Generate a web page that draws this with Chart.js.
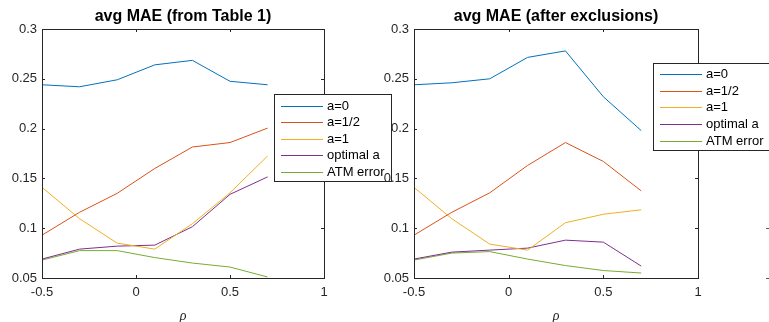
<!DOCTYPE html>
<html lang="en">
<head>
    <meta charset="UTF-8">
    <title>avg MAE</title>
    <script src="https://cdn.jsdelivr.net/npm/chart.js"></script>
    <style>
        body {
            margin: 0;
            padding: 0;
            background-color: #ffffff;
            width: 769px;
            height: 322px;
            overflow: hidden;
        }
        canvas {
            position: absolute;
            left: 0;
            top: 0;
        }
    </style>
</head>
<body>
    <canvas id="chartLeft" width="769" height="322"></canvas>
    <canvas id="chartRight" width="769" height="322"></canvas>

    <script>
        // rho values on the x axis
        const rho = [-0.5, -0.3, -0.1, 0.1, 0.3, 0.5, 0.7];
        const seriesNames = ['a=0', 'a=1/2', 'a=1', 'optimal a', 'ATM error'];
        const seriesColors = ['#0072BD', '#D95319', '#EDB120', '#7E2F8E', '#77AC30'];
        const xTicks = [-0.5, 0, 0.5, 1];
        const yTicks = [0.05, 0.1, 0.15, 0.2, 0.25, 0.3];

        // left panel: from Table 1
        const leftA0 = [0.244, 0.242, 0.249, 0.264, 0.2685, 0.2475, 0.244];
        const leftAHalf = [0.093, 0.116, 0.135, 0.160, 0.1815, 0.186, 0.2005];
        const leftA1 = [0.141, 0.1095, 0.085, 0.079, 0.1045, 0.1355, 0.1725];
        const leftOptimal = [0.069, 0.079, 0.082, 0.083, 0.1015, 0.134, 0.1515];
        const leftATM = [0.068, 0.0775, 0.0775, 0.0705, 0.065, 0.061, 0.051];

        // right panel: after exclusions
        const rightA0 = [0.244, 0.246, 0.250, 0.2715, 0.278, 0.232, 0.198];
        const rightAHalf = [0.093, 0.116, 0.1355, 0.163, 0.186, 0.167, 0.1375];
        const rightA1 = [0.141, 0.1095, 0.084, 0.078, 0.1055, 0.114, 0.1185];
        const rightOptimal = [0.069, 0.076, 0.078, 0.080, 0.088, 0.086, 0.062];
        const rightATM = [0.068, 0.075, 0.0765, 0.069, 0.0625, 0.0575, 0.055];

        const axisColor = '#262626';
        const tickFont = { family: 'Liberation Sans, Arial, sans-serif', size: 13 };

        function fmt(v) {
            return String(Number(v.toFixed(2)));
        }

        // MATLAB style box, inward ticks, title, xlabel and legend
        function matlabPlugin(opts) {
            return {
                id: 'matlabBox',
                afterDraw(chart) {
                    const ctx = chart.ctx;
                    const a = chart.chartArea;
                    const xs = chart.scales.x;
                    const ys = chart.scales.y;
                    ctx.save();
                    ctx.strokeStyle = axisColor;
                    ctx.lineWidth = 1;
                    ctx.beginPath();
                    ctx.rect(Math.round(a.left) + 0.5, Math.round(a.top) + 0.5,
                        Math.round(a.right - a.left), Math.round(a.bottom - a.top));
                    ctx.stroke();

                    const tl = 3;
                    ctx.beginPath();
                    xTicks.forEach(v => {
                        const px = Math.round(xs.getPixelForValue(v)) + 0.5;
                        ctx.moveTo(px, a.bottom); ctx.lineTo(px, a.bottom - tl);
                        ctx.moveTo(px, a.top); ctx.lineTo(px, a.top + tl);
                    });
                    yTicks.forEach(v => {
                        const py = Math.round(ys.getPixelForValue(v)) + 0.5;
                        ctx.moveTo(a.left, py); ctx.lineTo(a.left + tl, py);
                        ctx.moveTo(a.right, py); ctx.lineTo(a.right - tl, py);
                    });
                    ctx.stroke();

                    // title
                    const cx = (a.left + a.right) / 2;
                    ctx.fillStyle = '#000000';
                    ctx.font = 'bold 16px Liberation Sans, Arial, sans-serif';
                    ctx.textAlign = 'center';
                    ctx.textBaseline = 'middle';
                    ctx.fillText(opts.title, cx, 17);

                    // x label
                    ctx.fillStyle = '#262626';
                    ctx.font = 'italic 14px Liberation Serif, Times New Roman, serif';
                    ctx.fillText('\u03c1', cx, 316);

                    // legend
                    const L = opts.legend;
                    ctx.fillStyle = '#ffffff';
                    ctx.fillRect(L.x, L.y, L.w, L.h);
                    ctx.strokeStyle = axisColor;
                    ctx.strokeRect(L.x + 0.5, L.y + 0.5, L.w, L.h);
                    ctx.font = '13px Liberation Sans, Arial, sans-serif';
                    ctx.textAlign = 'left';
                    chart.data.datasets.forEach((ds, i) => {
                        const ry = Math.round(L.row0 + i * L.step) + 0.5;
                        ctx.strokeStyle = ds.borderColor;
                        ctx.beginPath();
                        ctx.moveTo(L.x + 7, ry);
                        ctx.lineTo(L.x + 49, ry);
                        ctx.stroke();
                        ctx.fillStyle = '#000000';
                        ctx.fillText(ds.label, L.x + 53, ry);
                    });

                    // stray ticks of the next panel at the right edge
                    if (opts.stray) {
                        ctx.strokeStyle = '#555555';
                        ctx.beginPath();
                        [0.1, 0.05].forEach(v => {
                            const py = Math.round(ys.getPixelForValue(v)) + 0.5;
                            ctx.moveTo(766, py); ctx.lineTo(769, py);
                        });
                        ctx.stroke();
                    }
                    ctx.restore();
                }
            };
        }

        function makeChart(id, series, pad, yWidth, opts) {
            return new Chart(document.getElementById(id), {
                type: 'line',
                data: {
                    datasets: series.map((vals, i) => ({
                        label: seriesNames[i],
                        data: rho.map((r, k) => ({ x: r, y: vals[k] })),
                        borderColor: seriesColors[i],
                        borderWidth: 1,
                        pointRadius: 0,
                        tension: 0,
                        fill: false
                    }))
                },
                options: {
                    responsive: false,
                    animation: false,
                    layout: { padding: pad },
                    plugins: {
                        legend: { display: false },
                        title: { display: false },
                        tooltip: { enabled: false }
                    },
                    scales: {
                        x: {
                            type: 'linear',
                            min: -0.5,
                            max: 1,
                            afterBuildTicks: s => { s.ticks = xTicks.map(v => ({ value: v })); },
                            afterFit: s => { s.height = 44; },
                            ticks: { color: '#262626', font: tickFont, padding: 7, maxRotation: 0, callback: v => fmt(v) },
                            grid: { display: true, drawOnChartArea: false, drawTicks: false, color: axisColor },
                            border: { display: true, color: axisColor }
                        },
                        y: {
                            min: 0.05,
                            max: 0.3,
                            afterBuildTicks: s => { s.ticks = yTicks.map(v => ({ value: v })); },
                            afterFit: s => { s.width = yWidth; },
                            ticks: { color: '#262626', font: tickFont, padding: 5, callback: v => fmt(v) },
                            grid: { display: true, drawOnChartArea: false, drawTicks: false, color: axisColor },
                            border: { display: true, color: axisColor }
                        }
                    }
                },
                plugins: [matlabPlugin(opts)]
            });
        }

        makeChart('chartLeft',
            [leftA0, leftAHalf, leftA1, leftOptimal, leftATM],
            { left: 0, right: 445, top: 29, bottom: 0 }, 42,
            { title: 'avg MAE (from Table 1)',
              legend: { x: 274, y: 94, w: 117, h: 87, row0: 106, step: 16.4 } });

        makeChart('chartRight',
            [rightA0, rightAHalf, rightA1, rightOptimal, rightATM],
            { left: 372, right: 71, top: 29, bottom: 0 }, 42,
            { title: 'avg MAE (after exclusions)',
              legend: { x: 653, y: 63, w: 118, h: 87, row0: 74, step: 16.7 },
              stray: true });
    </script>
</body>
</html>
